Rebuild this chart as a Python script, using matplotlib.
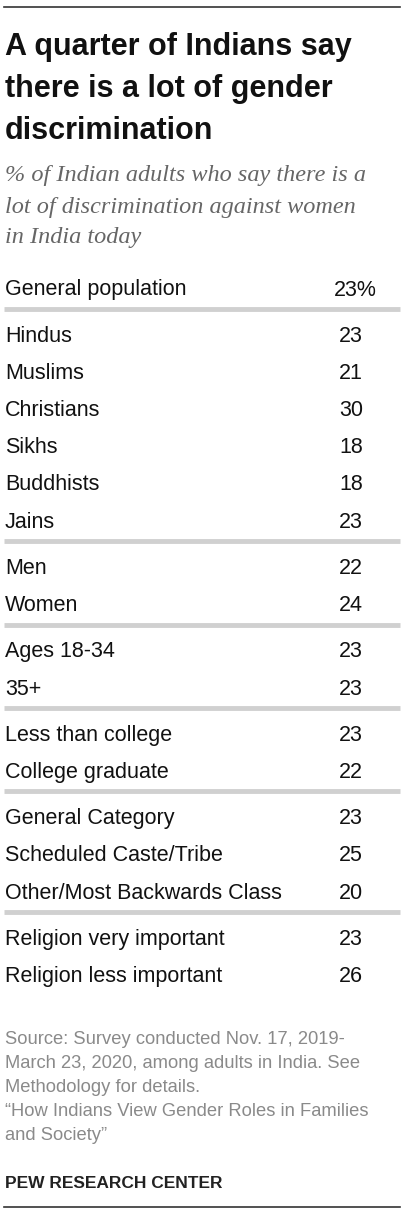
import matplotlib
matplotlib.use('Agg')
import matplotlib.pyplot as plt

labels = [["General population"],
          ["Hindus", "Muslims", "Christians", "Sikhs", "Buddhists", "Jains"],
          ["Men", "Women"],
          ["Ages 18-34", "35+"],
          ["Less than college", "College graduate"],
          ["General Category", "Scheduled Caste/Tribe", "Other/Most Backwards Class"],
          ["Religion very important", "Religion less important"]]
values = [[23], [23, 21, 30, 18, 18, 23], [22, 24], [23, 23], [23, 22],
          [23, 25, 20], [23, 26]]

W, H = 410, 1212
fig = plt.figure(figsize=(W / 100, H / 100), dpi=100)
ax = fig.add_axes([0, 0, 1, 1])
ax.set_xlim(0, W)
ax.set_ylim(H, 0)
ax.axis('off')

FONT = 'Liberation Sans'
ax.plot([4, 400], [7, 7], color='#333333', lw=1.2)
for i, line in enumerate(["A quarter of Indians say", "there is a lot of gender",
                          "discrimination"]):
    ax.text(5, 47 + i * 42, line, fontsize=22, fontweight='bold', family=FONT,
            va='center', color='#111111')
for i, line in enumerate(["% of Indian adults who say there is a",
                          "lot of discrimination against women",
                          "in India today"]):
    ax.text(5, 176 + i * 31, line, fontsize=17.5, style='italic',
            family='Liberation Serif', va='center', color='#666666')

y = 290
step, gap = 37.2, 9
for g, (labs, vals) in enumerate(zip(labels, values)):
    for j, (lab, v) in enumerate(zip(labs, vals)):
        ax.text(5, y, lab, fontsize=15.5, family=FONT, va='center', color='#111111')
        if g == 0:
            ax.text(377, y, f"{v}%", fontsize=15.5, family=FONT, va='center',
                    ha='right', color='#111111')
        else:
            ax.text(363, y, str(v), fontsize=15.5, family=FONT, va='center',
                    ha='right', color='#111111')
        if j < len(labs) - 1:
            y += step
    if g < len(labels) - 1:
        ax.plot([4, 400], [y + 19, y + 19], color='#d0d0d0', lw=3.5,
                solid_capstyle='butt')
        y += step + gap

source = ["Source: Survey conducted Nov. 17, 2019-",
          "March 23, 2020, among adults in India. See",
          "Methodology for details.",
          "\u201cHow Indians View Gender Roles in Families",
          "and Society\u201d"]
for i, line in enumerate(source):
    ax.text(5, 1040 + i * 23.8, line, fontsize=13.2, family=FONT, va='center',
            color='#8a8a8a')
ax.text(5, 1183, "PEW RESEARCH CENTER", fontsize=12.5, fontweight='bold',
        family=FONT, va='center', color='#222222')
ax.plot([4, 400], [1207, 1207], color='#333333', lw=1.2)

fig.savefig('out.png', dpi=100)
